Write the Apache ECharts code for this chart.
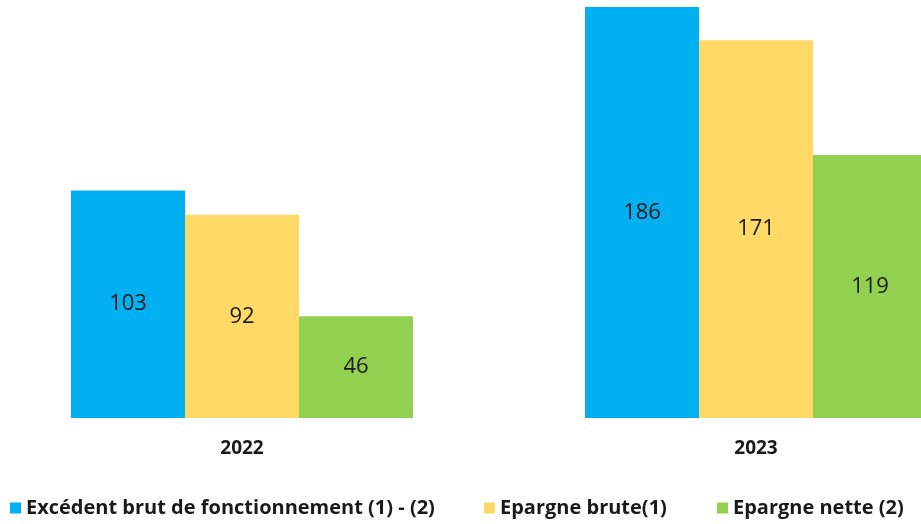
<!DOCTYPE html>
<html><head><meta charset="utf-8">
<script src="https://cdn.jsdelivr.net/npm/echarts@6/dist/echarts.min.js"></script>
<style>html,body{margin:0;padding:0;background:#fff}#c{width:921px;height:524px}</style>
</head><body><div id="c"></div>
<script>
const categories = ["2022", "2023"];
const seriesNames = ["Excédent brut de fonctionnement (1) - (2)", "Epargne brute(1)", "Epargne nette (2)"];
const ebf = [103, 186];
const epargneBrute = [92, 171];
const epargneNette = [46, 119];
const colors = ["#00B0F0", "#FFD966", "#92D050"];

const font = "'Open Sans', 'Liberation Sans', sans-serif";
const chart = echarts.init(document.getElementById('c'), null, {renderer: 'canvas'});
const legendBase = {
  top: 498, icon: 'rect', itemWidth: 11, itemHeight: 11, itemGap: 6, padding: 0,
  textStyle: {fontFamily: font, fontWeight: 'bold', fontSize: 20, color: '#1a1a1a'}
};
const mk = (name, data, i) => ({
  name, type: 'bar', data, barWidth: 114, barGap: '0%',
  itemStyle: {color: colors[i]},
  label: {show: true, position: 'inside', fontFamily: font, fontSize: 22, color: '#1a1a1a'}
});
chart.setOption({
  animation: false,
  color: colors,
  grid: {left: -15, width: 1028, top: 7, bottom: 106, containLabel: false, outerBoundsMode: 'none'},
  legend: [
    Object.assign({}, legendBase, {left: 10, data: [seriesNames[0]]}),
    Object.assign({}, legendBase, {left: 484, data: [seriesNames[1]]}),
    Object.assign({}, legendBase, {left: 717, data: [seriesNames[2]]})
  ],
  xAxis: {
    type: 'category', data: categories,
    axisLine: {show: false}, axisTick: {show: false},
    axisLabel: {margin: 21, fontFamily: font, fontWeight: 'bold', fontSize: 19, color: '#1a1a1a'}
  },
  yAxis: {type: 'value', min: 0, max: 186, show: false, splitLine: {show: false}},
  series: [mk(seriesNames[0], ebf, 0), mk(seriesNames[1], epargneBrute, 1), mk(seriesNames[2], epargneNette, 2)]
});
</script></body></html>
